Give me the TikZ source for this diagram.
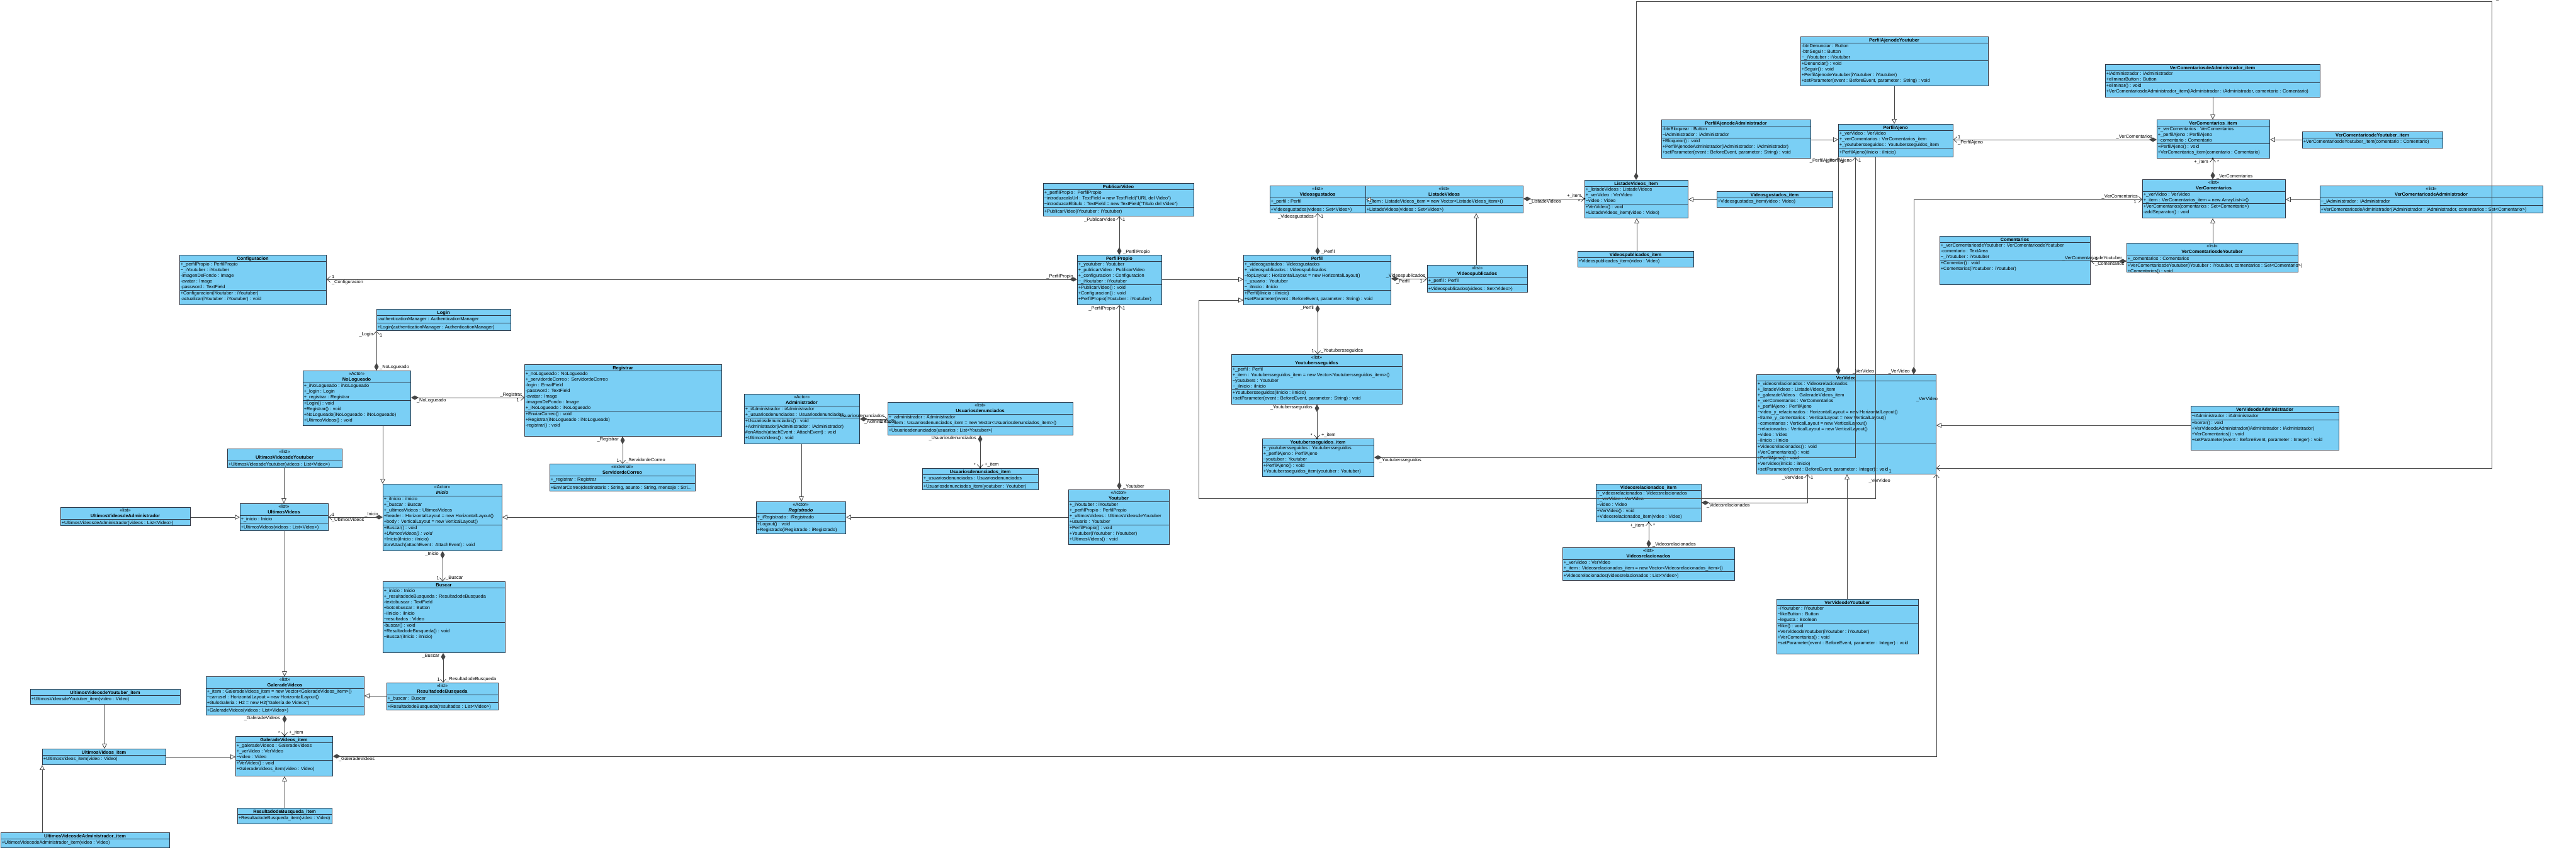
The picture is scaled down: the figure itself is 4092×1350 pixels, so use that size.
\documentclass[tikz,border=0pt]{standalone}
\usepackage{fontspec}
\setmainfont{Liberation Sans}
\usetikzlibrary{arrows.meta,calc}
\definecolor{boxfill}{RGB}{122,207,245}
\definecolor{boxline}{RGB}{45,55,70}
\definecolor{linec}{RGB}{70,70,70}
\newcommand\fs{\fontsize{7.4}{9}\selectfont}
\newcommand\fsb{\fontsize{7.4}{9}\selectfont\bfseries}
\newcommand\tld{\textasciitilde}
\newcount\lblc
\tikzset{
 cbox/.style={draw=boxline, fill=boxfill, line width=0.9pt, inner sep=0pt},
 cline/.style={draw=boxline, line width=0.9pt},
 ctext/.style={font=\fs, anchor=north west, inner xsep=1.6pt, inner ysep=1.5pt, align=left,
   execute at begin node={\rule{0pt}{7pt}}, execute at end node={\rule[-2pt]{0pt}{2pt}}},
 conn/.style={draw=linec, line width=0.8pt},
 gen/.style={conn, -{Triangle[length=8pt, width=8pt, fill=white]}},
 comp/.style={conn, {Diamond[length=12pt, width=7pt]}-{Straight Barb[length=5pt, width=9pt]}},
 lbl/.code={\global\advance\lblc by 1\relax\tikzset{name=lbl\the\lblc, font=\fs, inner sep=0.8pt}},
 odot/.code={\global\advance\lblc by 1\relax\tikzset{name=dot\the\lblc, circle, fill=black, inner sep=0pt, minimum size=3pt}},
}
\newcommand\uc[9]{%
  \node[cbox, anchor=north west, minimum width={(#4-#2)*1pt}, minimum height={(#5-#3)*1pt}] (#1) at (#2,#3) {};
  \if\relax\detokenize{#6}\relax
    \node[font=\fsb, anchor=base, inner sep=0pt] (#1-t) at ({(#2+#4)/2},{#3+8}) {#7};
    \def\hb{10}%
  \else
    \node[font=\fs, anchor=base, inner sep=0pt] (#1-s) at ({(#2+#4)/2},{#3+7.5}) {<<#6>>};
    \node[font=\fsb, anchor=base, inner sep=0pt] (#1-t) at ({(#2+#4)/2},{#3+16.5}) {#7};
    \def\hb{19}%
  \fi
  \draw[cline] (#2,{#3+\hb}) -- (#4,{#3+\hb});
  \if\relax\detokenize{#8}\relax
    \coordinate (#1-a) at (#2,{#3+\hb});
  \else
    \node[ctext] (#1-at) at (#2,{#3+\hb}) {#8};
    \coordinate (#1-a) at (#1-at.south west);
    \draw[cline] (#1-a) -- (#1-a -| #4,0);
  \fi
  \node[ctext] (#1-ot) at (#1-a) {#9};
}
\catcode`\_=12
\begin{document}
\begin{tikzpicture}[x=1pt,y=-1pt]
\fill[white] (0,0) rectangle (4092,1350);
\useasboundingbox (0,0) rectangle (4092,1350);

% ---------------- classes ----------------
\uc{conf}{285}{405}{518}{484}{}{Configuracion}{+_perfilPropio : PerfilPropio\\\tld _iYoutuber : iYoutuber\\-imagenDeFondo : Image\\-avatar : Image\\-password : TextField}{+Configuracion(iYoutuber : iYoutuber)\\-actualizar(iYoutuber : iYoutuber) : void}
\uc{login}{598}{491}{811}{525}{}{Login}{-authenticationManager : AuthenticationManager}{+Login(authenticationManager : AuthenticationManager)}
\uc{nolog}{481}{589}{652}{676}{Actor}{NoLogueado}{+_iNoLogueado : iNoLogueado\\+_login : Login\\+_registrar : Registrar}{+Login() : void\\+Registrar() : void\\+NoLogueado(iNoLogueado : iNoLogueado)\\+UltimosVideos() : void}
\uc{uvy}{361}{713}{543}{743}{list}{UltimosVideosdeYoutuber}{}{+UltimosVideosdeYoutuber(videos : List<Video>)}
\uc{uv}{381}{800}{521}{843}{list}{UltimosVideos}{+_inicio : Inicio}{+UltimosVideos(videos : List<Video>)}
\uc{ini}{608}{769}{797}{875}{Actor}{\itshape Inicio}{+_iInicio : iInicio\\+_buscar : Buscar\\+_ultimosVideos : UltimosVideos\\+header : HorizontalLayout = new HorizontalLayout()\\+body : VerticalLayout = new VerticalLayout()}{+Buscar() : void\\{\itshape +UltimosVideos() : void}\\+Inicio(iInicio : iInicio)\\\#onAttach(attachEvent : AttachEvent) : void}
\uc{busc}{608}{924}{802}{1037}{}{Buscar}{+_inicio : Inicio\\+_resultadodeBusqueda : ResultadodeBusqueda\\-textobuscar : TextField\\+botonbuscar : Button\\\tld iInicio : iInicio\\\tld resultados : Video}{-buscar() : void\\+ResultadodeBusqueda() : void\\\tld Buscar(iInicio : iInicio)}
\uc{rdb}{614}{1085}{791}{1128}{list}{ResultadodeBusqueda}{+_buscar : Buscar}{+ResultadodeBusqueda(resultados : List<Video>)}
\uc{uva}{96}{806}{302}{835}{list}{UltimosVideosdeAdministrador}{}{+UltimosVideosdeAdministrador(videos : List<Video>)}
\uc{gv}{327}{1075}{578}{1136}{list}{GaleradeVideos}{+_item : GaleradeVideos_item = new Vector<GaleradeVideos_item>()\\\tld carrusel : HorizontalLayout = new HorizontalLayout()\\+tituloGaleria : H2 = new H2("Galería de Videos")}{+GaleradeVideos(videos : List<Video>)}
\uc{gvi}{374}{1170}{528}{1233}{}{GaleradeVideos_item}{+_galeradeVideos : GaleradeVideos\\+_verVideo : VerVideo\\\tld video : Video}{+VerVideo() : void\\+GaleradeVideos_item(video : Video)}
\uc{rdbi}{377}{1284}{527}{1309}{}{ResultadodeBusqueda_item}{}{+ResultadodeBusqueda_item(video : Video)}
\uc{uvyi}{48}{1095}{286}{1119}{}{UltimosVideosdeYoutuber_item}{}{+UltimosVideosdeYoutuber_item(video : Video)}
\uc{uvi}{67}{1190}{263}{1215}{}{UltimosVideos_item}{}{+UltimosVideos_item(video : Video)}
\uc{uvai}{1}{1323}{269}{1347}{}{UltimosVideosdeAdministrador_item}{}{+UltimosVideosdeAdministrador_item(video : Video)}
\uc{reg}{833}{579}{1146}{693}{}{Registrar}{+_noLogueado : NoLogueado\\+_servidordeCorreo : ServidordeCorreo\\-login : EmailField\\-password : TextField\\-avatar : Image\\-imagenDeFondo : Image\\+_iNoLogueado : iNoLogueado}{+EnviarCorreo() : void\\+Registrar(iNoLogueado : iNoLogueado)\\-registrar() : void}
\uc{serv}{873}{737}{1104}{780}{external}{ServidordeCorreo}{+_registrar : Registrar}{+EnviarCorreo(destinatario : String, asunto : String, mensaje : Stri...}
\uc{adm}{1182}{626}{1365}{705}{Actor}{Administrador}{+_iAdministrador : iAdministrador\\+_usuariosdenunciados : Usuariosdenunciados}{+Usuariosdenunciados() : void\\+Administrador(iAdministrador : iAdministrador)\\\#onAttach(attachEvent : AttachEvent) : void\\+UltimosVideos() : void}
\uc{regd}{1201}{797}{1343}{848}{Actor}{\itshape Registrado}{+_iRegistrado : iRegistrado}{+Logout() : void\\+Registrado(iRegistrado : iRegistrado)}
\uc{ud}{1410}{639}{1704}{691}{list}{Usuariosdenunciados}{+_administrador : Administrador\\+_item : Usuariosdenunciados_item = new Vector<Usuariosdenunciados_item>()}{+Usuariosdenunciados(usuarios : List<Youtuber>)}
\uc{udi}{1465}{744}{1649}{778}{}{Usuariosdenunciados_item}{+_usuariosdenunciados : Usuariosdenunciados}{+Usuariosdenunciados_item(youtuber : Youtuber)}
\uc{ytb}{1697}{778}{1857}{865}{Actor}{Youtuber}{+_iYoutuber : iYoutuber\\+_perfilPropio : PerfilPropio\\+_ultimosVideos : UltimosVideosdeYoutuber\\+usuario : Youtuber}{+PerfilPropio() : void\\+Youtuber(iYoutuber : iYoutuber)\\+UltimosVideos() : void}
\uc{pub}{1657}{291}{1896}{343}{}{PublicarVideo}{+_perfilPropio : PerfilPropio\\\tld introduzcalaUrl : TextField = new TextField("URL del Video")\\\tld introduzcaEltitulo : TextField = new TextField("Título del Video")}{+PublicarVideo(iYoutuber : iYoutuber)}
\uc{pp}{1711}{405}{1845}{484}{}{PerfilPropio}{+_youtuber : Youtuber\\+_publicarVideo : PublicarVideo\\+_configuracion : Configuracion\\\tld _iYoutuber : iYoutuber}{+PublicarVideo() : void\\+Configuracion() : void\\+PerfilPropio(iYoutuber : iYoutuber)}
\uc{vg}{2017}{295}{2169}{338}{list}{Videosgustados}{+_perfil : Perfil}{+Videosgustados(videos : Set<Video>)}
\uc{lv}{2169}{295}{2419}{338}{list}{ListadeVideos}{+_item : ListadeVideos_item = new Vector<ListadeVideos_item>()}{+ListadeVideos(videos : Set<Video>)}
\uc{lvi}{2517}{286}{2681}{346}{}{ListadeVideos_item}{+_listadeVideos : ListadeVideos\\+_verVideo : VerVideo\\\tld video : Video}{+VerVideo() : void\\+ListadeVideos_item(video : Video)}
\uc{vpi}{2506}{399}{2690}{424}{}{Videospublicados_item}{}{+Videospublicados_item(video : Video)}
\uc{vgi}{2727}{304}{2911}{329}{}{Videosgustados_item}{}{+Videosgustados_item(video : Video)}
\uc{perf}{1975}{405}{2209}{484}{}{Perfil}{+_videosgustados : Videosgustados\\+_videospublicados : Videospublicados\\\tld topLayout : HorizontalLayout = new HorizontalLayout()\\\tld _usuario : Youtuber\\\tld _iInicio : iInicio}{+Perfil(iInicio : iInicio)\\+setParameter(event : BeforeEvent, parameter : String) : void}
\uc{vp}{2267}{421}{2426}{464}{list}{Videospublicados}{+_perfil : Perfil}{+Videospublicados(videos : Set<Video>)}
\uc{ys}{1956}{563}{2227}{642}{list}{Youtubersseguidos}{+_perfil : Perfil\\+_item : Youtubersseguidos_item = new Vector<Youtubersseguidos_item>()\\\tld youtubers : Youtuber\\\tld _iInicio : iInicio}{+Youtubersseguidos(iInicio : iInicio)\\+setParameter(event : BeforeEvent, parameter : String) : void}
\uc{ysi}{2005}{697}{2182}{757}{}{Youtubersseguidos_item}{+_youtubersseguidos : Youtubersseguidos\\+_perfilAjeno : PerfilAjeno\\\tld youtuber : Youtuber}{+PerfilAjeno() : void\\+Youtubersseguidos_item(youtuber : Youtuber)}
\uc{pay}{2860}{58}{3158}{136}{}{PerfilAjenodeYoutuber}{-btnDenunciar : Button\\-btnSeguir : Button\\\tld _iYoutuber : iYoutuber}{+Denunciar() : void\\+Seguir() : void\\+PerfilAjenodeYoutuber(iYoutuber : iYoutuber)\\+setParameter(event : BeforeEvent, parameter : String) : void}
\uc{paa}{2639}{190}{2876}{251}{}{PerfilAjenodeAdministrador}{-btnBloquear : Button\\\tld iAdministrador : iAdministrador}{+Bloquear() : void\\+PerfilAjenodeAdministrador(iAdministrador : iAdministrador)\\+setParameter(event : BeforeEvent, parameter : String) : void}
\uc{pa}{2920}{197}{3102}{249}{}{PerfilAjeno}{+_verVideo : VerVideo\\+_verComentarios : VerComentarios_item\\+_youtubersseguidos : Youtubersseguidos_item}{+PerfilAjeno(iInicio : iInicio)}
\uc{vcai}{3344}{102}{3685}{154}{}{VerComentariosdeAdministrador_item}{+iAdministrador : iAdministrador\\+eliminarButton : Button}{+eliminar() : void\\+VerComentariosdeAdministrador_item(iAdministrador : iAdministrador, comentario : Comentario)}
\uc{vci}{3426}{190}{3605}{251}{}{VerComentarios_item}{+_verComentarios : VerComentarios\\+_perfilAjeno : PerfilAjeno\\\tld comentario : Comentario}{+PerfilAjeno() : void\\+VerComentarios_item(comentario : Comentario)}
\uc{vcyi}{3657}{209}{3880}{235}{}{VerComentariosdeYoutuber_item}{}{+VerComentariosdeYoutuber_item(comentario : Comentario)}
\uc{vc}{3403}{285}{3630}{346}{list}{VerComentarios}{+_verVideo : VerVideo\\+_item : VerComentarios_item = new ArrayList<>()}{+VerComentarios(comentarios : Set<Comentario>)\\-addSeparator() : void}
\uc{vca}{3685}{295}{4039}{338}{list}{VerComentariosdeAdministrador}{\tld _iAdministrador : iAdministrador}{+VerComentariosdeAdministrador(iAdministrador : iAdministrador, comentarios : Set<Comentario>)}
\uc{vcy}{3378}{386}{3650}{432}{list}{VerComentariosdeYoutuber}{+_comentarios : Comentarios}{+VerComentariosdeYoutuber(iYoutuber : iYoutuber, comentarios : Set<Comentario>)\\+Comentarios() : void}
\uc{com}{3081}{375}{3320}{452}{}{Comentarios}{+_verComentariosdeYoutuber : VerComentariosdeYoutuber\\-comentario : TextArea\\\tld _iYoutuber : iYoutuber}{+Comentar() : void\\+Comentarios(iYoutuber : iYoutuber)}
\uc{vv}{2790}{595}{3075}{753}{}{VerVideo}{+_videosrelacionados : Videosrelacionados\\+_listadeVideos : ListadeVideos_item\\+_galeradeVideos : GaleradeVideos_item\\+_verComentarios : VerComentarios\\+_perfilAjeno : PerfilAjeno\\\tld video_y_relacionados : HorizontalLayout = new HorizontalLayout()\\\tld frame_y_comentarios : VerticalLayout = new VerticalLayout()\\\tld comentarios : VerticalLayout = new VerticalLayout()\\\tld relacionados : VerticalLayout = new VerticalLayout()\\\tld video : Video\\\tld iInicio : iInicio}{+Videosrelacionados() : void\\+VerComentarios() : void\\+PerfilAjeno() : void\\+VerVideo(iInicio : iInicio)\\+setParameter(event : BeforeEvent, parameter : Integer) : void}
\uc{vva}{3480}{645}{3715}{715}{}{VerVideodeAdministrador}{\tld iAdministrador : iAdministrador}{+borrar() : void\\+VerVideodeAdministrador(iAdministrador : iAdministrador)\\+VerComentarios() : void\\+setParameter(event : BeforeEvent, parameter : Integer) : void}
\uc{vvy}{2822}{952}{3047}{1039}{}{VerVideodeYoutuber}{\tld iYoutuber : iYoutuber\\\tld likeButton : Button\\\tld legusta : Boolean}{+like() : void\\+VerVideodeYoutuber(iYoutuber : iYoutuber)\\+VerComentarios() : void\\+setParameter(event : BeforeEvent, parameter : Integer) : void}
\uc{vri}{2535}{769}{2702}{829}{}{Videosrelacionados_item}{+_videosrelacionados : Videosrelacionados\\+_verVideo : VerVideo\\\tld video : Video}{+VerVideo() : void\\+Videosrelacionados_item(video : Video)}
\uc{vr}{2482}{870}{2755}{922}{list}{Videosrelacionados}{+_verVideo : VerVideo\\+_item : Videosrelacionados_item = new Vector<Videosrelacionados_item>()}{+Videosrelacionados(videosrelacionados : List<Video>)}

% ---------------- connectors ----------------
\coordinate (k1) at (3958,2);
\coordinate (k2) at (1904,792);

\draw[comp] (pp.west |- 0,444) -- (conf.east |- 0,444)
  node[lbl,pos=0,anchor=south east,xshift=-5pt]{_PerfilPropio}
  node[lbl,pos=1,anchor=south west,xshift=7pt]{1}
  node[lbl,pos=1,anchor=north west,xshift=7pt]{_Configuracion};
\draw[comp] (nolog.north -| 598,0) -- (login.south -| 598,0)
  node[lbl,pos=0,anchor=south west,xshift=4pt,yshift=1pt]{_NoLogueado}
  node[lbl,pos=1,anchor=north east,xshift=-4pt,yshift=-1pt]{_Login}
  node[lbl,pos=1,anchor=north west,xshift=4pt,yshift=-3pt]{1};
\draw[comp] (nolog.east |- 0,632) -- (reg.west |- 0,632)
  node[lbl,pos=0,anchor=north west,xshift=8pt]{_NoLogueado}
  node[lbl,pos=1,anchor=south east,xshift=-3pt]{_Registrar}
  node[lbl,pos=1,anchor=north east,xshift=-7pt]{1};
\draw[gen] (nolog.south -| 608,0) -- (ini.north -| 608,0);
\draw[gen] (uvy.south -| 451,0) -- (uv.north -| 451,0);
\draw[gen] (uva.east |- 0,822) -- (uv.west |- 0,822);
\draw[comp] (ini.west |- 0,822) -- (uv.east |- 0,822)
  node[lbl,pos=0,anchor=south east,xshift=-6pt]{_Inicio}
  node[lbl,pos=1,anchor=south west,xshift=4pt]{1}
  node[lbl,pos=1,anchor=north west,xshift=4pt]{_UltimosVideos};
\draw[gen] (regd.west |- 0,822) -- (ini.east |- 0,822);
\draw[comp] (ini.south -| 703,0) -- (busc.north -| 703,0)
  node[lbl,pos=0,anchor=north east,xshift=-5pt]{_Inicio}
  node[lbl,pos=1,anchor=south east,xshift=-4pt,yshift=1pt]{1}
  node[lbl,pos=1,anchor=south west,xshift=4pt,yshift=1pt]{_Buscar};
\draw[comp] (busc.south -| 704,0) -- (rdb.north -| 704,0)
  node[lbl,pos=0,anchor=north east,xshift=-5pt]{_Buscar}
  node[lbl,pos=1,anchor=south east,xshift=-4pt,yshift=1pt]{1}
  node[lbl,pos=1,anchor=south west,xshift=4pt,yshift=1pt]{_ResultadodeBusqueda};
\draw[gen] (uv.south -| 452,0) -- (gv.north -| 452,0);
\draw[gen] (rdb.west |- 0,1106) -- (gv.east |- 0,1106);
\draw[comp] (gv.south -| 452,0) -- (gvi.north -| 452,0)
  node[lbl,pos=0,anchor=north east,xshift=-6pt]{_GaleradeVideos}
  node[lbl,pos=1,anchor=south east,xshift=-6pt,yshift=1pt]{*}
  node[lbl,pos=1,anchor=south west,xshift=6pt,yshift=1pt]{+_item}
  node[odot,pos=1]{};
\draw[gen] (rdbi.north -| 452,0) -- (gvi.south -| 452,0);
\draw[gen] (uvi.east |- 0,1203) -- (gvi.west |- 0,1203);
\draw[gen] (uvyi.south -| 166,0) -- (uvi.north -| 166,0);
\draw[gen] (uvai.north -| 67,0) -- (uvi.south -| 67,0);
\draw[comp] (gvi.east |- 0,1202) -| (vv.south east)
  node[lbl,pos=0,anchor=north west,xshift=8pt]{_GaleradeVideos}
  node[lbl,pos=1,anchor=north east,xshift=-72pt,yshift=-6pt]{_VerVideo};
\draw[comp] (reg.south -| 989,0) -- (serv.north -| 989,0)
  node[lbl,pos=0,anchor=north east,xshift=-5pt]{_Registrar}
  node[lbl,pos=1,anchor=south east,xshift=-4pt,yshift=1pt]{1}
  node[lbl,pos=1,anchor=south west,xshift=4pt,yshift=1pt]{_ServidordeCorreo};
\draw[gen] (adm.south -| 1273,0) -- (regd.north -| 1273,0);
\draw[comp] (adm.east |- 0,666) -- (ud.west |- 0,666)
  node[lbl,pos=0,anchor=north west,xshift=6pt]{_Administrador}
  node[lbl,pos=1,anchor=south east,xshift=-4pt]{_Usuariosdenunciados}
  node[lbl,pos=1,anchor=north east,xshift=-7pt]{1};
\draw[comp] (ud.south -| 1557,0) -- (udi.north -| 1557,0)
  node[lbl,pos=0,anchor=north east,xshift=-5pt]{_Usuariosdenunciados}
  node[lbl,pos=1,anchor=south east,xshift=-6pt,yshift=1pt]{*}
  node[lbl,pos=1,anchor=south west,xshift=6pt,yshift=1pt]{+_item}
  node[odot,pos=1]{};
\draw[gen] (ytb.west |- 0,822) -- (regd.east |- 0,822);
\draw[comp] (ytb.north -| 1778,0) -- (pp.south -| 1778,0)
  node[lbl,pos=0,anchor=south west,xshift=5pt]{_Youtuber}
  node[lbl,pos=1,anchor=north east,xshift=-5pt,yshift=-1pt]{_PerfilPropio}
  node[lbl,pos=1,anchor=north west,xshift=4pt,yshift=-1pt]{1};
\draw[comp] (pp.north -| 1778,0) -- (pub.south -| 1778,0)
  node[lbl,pos=0,anchor=south west,xshift=5pt]{_PerfilPropio}
  node[lbl,pos=1,anchor=north east,xshift=-5pt,yshift=-1pt]{_PublicarVideo}
  node[lbl,pos=1,anchor=north west,xshift=4pt,yshift=-1pt]{1};
\draw[gen] (pp.east |- 0,444) -- (perf.west |- 0,444);
\draw[comp] (perf.north -| 2093,0) -- (vg.south -| 2093,0)
  node[lbl,pos=0,anchor=south west,xshift=5pt]{_Perfil}
  node[lbl,pos=1,anchor=north east,xshift=-5pt,yshift=-1pt]{_Videosgustados}
  node[lbl,pos=1,anchor=north west,xshift=4pt,yshift=-1pt]{1};
\draw[comp] (perf.east |- 0,443) -- (vp.west |- 0,443)
  node[lbl,pos=0,anchor=north west,xshift=7pt]{_Perfil}
  node[lbl,pos=1,anchor=south east,xshift=-2pt]{_Videospublicados}
  node[lbl,pos=1,anchor=north east,xshift=-6pt]{1};
\draw[gen] (vp.north -| 2345,0) -- (lv.south -| 2345,0);
\draw[gen] ($(lv.west |- 0,317)+(12,0)$) -- (vg.east |- 0,317);
\draw[comp] (lv.east |- 0,316) -- (lvi.west |- 0,316)
  node[lbl,pos=0,anchor=north west,xshift=8pt]{_ListadeVideos}
  node[lbl,pos=1,anchor=south east,xshift=-4pt]{+_item}
  node[lbl,pos=1,anchor=north east,xshift=-6pt]{*}
  node[odot,pos=1]{};
\draw[gen] (vpi.north -| 2600,0) -- (lvi.south -| 2600,0);
\draw[gen] (vgi.west |- 0,317) -- (lvi.east |- 0,317);
\draw[comp] (lvi.north -| 2599,0) |- (k1) |- (vv.east |- 0,744)
  node[lbl,pos=0,anchor=south west,xshift=6pt]{_ListadeVideos}
  node[lbl,pos=1,anchor=north east,xshift=-70pt,yshift=-1pt]{1};
\node[lbl] at (3061,635) {_VerVideo};
\draw[comp] (perf.south -| 2093,0) -- (ys.north -| 2093,0)
  node[lbl,pos=0,anchor=north east,xshift=-5pt]{_Perfil}
  node[lbl,pos=1,anchor=south east,xshift=-4pt,yshift=1pt]{1}
  node[lbl,pos=1,anchor=south west,xshift=4pt,yshift=1pt]{_Youtubersseguidos};
\draw[comp] (ys.south -| 2092,0) -- (ysi.north -| 2092,0)
  node[lbl,pos=0,anchor=north east,xshift=-6pt]{_Youtubersseguidos}
  node[lbl,pos=1,anchor=south east,xshift=-6pt,yshift=1pt]{*}
  node[lbl,pos=1,anchor=south west,xshift=6pt,yshift=1pt]{+_item}
  node[odot,pos=1]{};
\draw[comp] (ysi.east |- 0,727) -| (pa.south -| 2947,0)
  node[lbl,pos=0,anchor=north west,xshift=7pt]{_Youtubersseguidos}
  node[lbl,pos=1,anchor=north east,xshift=-4pt,yshift=-1pt]{_PerfilAjeno}
  node[lbl,pos=1,anchor=north west,xshift=4pt,yshift=-1pt]{1};
\draw[gen] (pa.south -| 2979,0) |- (k2) |- (perf.west |- 0,477);
\draw[comp] (vv.north -| 2920,0) -- (pa.south -| 2920,0)
  node[lbl,pos=0,anchor=south west,xshift=22pt]{_VerVideo}
  node[lbl,pos=1,anchor=north east,xshift=-4pt,yshift=-1pt]{_PerfilAjeno}
  node[lbl,pos=1,anchor=north west,xshift=3pt,yshift=-3pt]{1};
\draw[comp] (vv.north -| 3040,0) |- (vc.west |- 0,317)
  node[lbl,pos=0,anchor=south east,xshift=-5pt]{_VerVideo}
  node[lbl,pos=1,anchor=south east,xshift=-6pt]{_VerComentarios}
  node[lbl,pos=1,anchor=north east,xshift=-8pt]{1};
\draw[gen] (pay.south -| 3009,0) -- (pa.north -| 3009,0);
\draw[gen] (paa.east |- 0,222) -- (pa.west |- 0,222);
\draw[comp] (vci.west |- 0,222) -- (pa.east |- 0,222)
  node[lbl,pos=0,anchor=south east,xshift=-6pt]{_VerComentarios}
  node[lbl,pos=1,anchor=south west,xshift=6pt]{1}
  node[lbl,pos=1,anchor=north west,xshift=6pt]{_PerfilAjeno};
\draw[gen] (vcai.south -| 3515,0) -- (vci.north -| 3515,0);
\draw[gen] (vcyi.west |- 0,222) -- (vci.east |- 0,222);
\draw[comp] (vc.north -| 3515,0) -- (vci.south -| 3515,0)
  node[lbl,pos=0,anchor=south west,xshift=5pt]{_VerComentarios}
  node[lbl,pos=1,anchor=north east,xshift=-6pt,yshift=-1pt]{+_item}
  node[lbl,pos=1,anchor=north west,xshift=6pt,yshift=-1pt]{*}
  node[odot,pos=1]{};
\draw[gen] (vca.west |- 0,317) -- (vc.east |- 0,317);
\draw[gen] (vcy.north -| 3515,0) -- (vc.south -| 3515,0);
\draw[comp] (vcy.west |- 0,415) -- (com.east |- 0,415)
  node[lbl,pos=0,anchor=south east,xshift=-6pt]{_VerComentariosdeYoutuber}
  node[lbl,pos=1,anchor=south west,xshift=6pt]{1}
  node[lbl,pos=1,anchor=north west,xshift=6pt]{_Comentarios};
\draw[comp] (vri.east |- 0,799) -| (vv.south -| 2871,0)
  node[lbl,pos=0,anchor=north west,xshift=7pt]{_Videosrelacionados}
  node[lbl,pos=1,anchor=north east,xshift=-5pt,yshift=-1pt]{_VerVideo}
  node[lbl,pos=1,anchor=north west,xshift=4pt,yshift=-1pt]{1};
\draw[comp] (vr.north -| 2619,0) -- (vri.south -| 2619,0)
  node[lbl,pos=0,anchor=south west,xshift=5pt]{_Videosrelacionados}
  node[lbl,pos=1,anchor=north east,xshift=-6pt,yshift=-1pt]{+_item}
  node[lbl,pos=1,anchor=north west,xshift=6pt,yshift=-1pt]{*}
  node[odot,pos=1]{};
\draw[gen] (vvy.north -| 2934,0) -- (vv.south -| 2934,0);
\draw[gen] (vva.west |- 0,676) -- (vv.east |- 0,676);
\end{tikzpicture}
\end{document}
